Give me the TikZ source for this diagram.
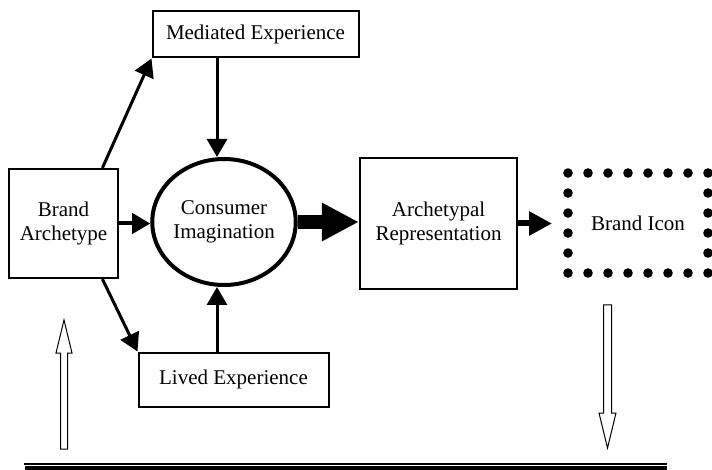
\documentclass[tikz,border=0pt]{standalone}
\usepackage{fontspec}
\setmainfont{Liberation Serif}
\usepackage{tikz}
\usetikzlibrary{calc}
\usetikzlibrary{shapes.geometric}
\usetikzlibrary{arrows.meta, positioning}

\begin{document}
\begin{tikzpicture}[x=0.5pt, y=-0.5pt,
		every node/.style={font=\fontsize{10.5}{12}\selectfont, align=center, inner sep=0pt},
		box/.style={draw, line width=1pt},
		conn/.style={line width=1.5pt, -{Triangle[width=10pt,length=9pt]}},
		hollow/.style={draw, line width=0.5pt, fill=white}]

		\useasboundingbox (0,0) rectangle (712,470);

		\node[box, minimum width=54.5pt, minimum height=54.5pt](arch) at (63.5,223.5) {Brand\\Archetype};
		\node[box, minimum width=103pt, minimum height=23pt](med) at (255.5,34.5) {Mediated Experience};
		\node[box, minimum width=95pt, minimum height=27pt](lived) at (233.5,379.5) {Lived Experience};
		\node[draw, ellipse, line width=2pt, minimum width=71pt, minimum height=63pt](ell) at (224,222) {Consumer\\Imagination};
		\node[box, line width=1.2pt, minimum width=78.5pt, minimum height=65.5pt](arep) at (438.5,223.5) {Archetypal\\Representation};
		\node[draw, line width=4.8pt, line cap=round, dash pattern=on 0pt off 10pt,
			minimum width=70pt, minimum height=50pt](icon) at (638,223) {Brand Icon};
		\coordinate (tip) at (552,223.5);

		\draw[conn] (arch.55) -- (med.south west);
		\draw[conn] (arch.-55) -- (lived.north west);
		\draw[conn, line width=2pt] (arch.east) -- (arch.east -| ell.west);
		\draw[conn] ([xshift=-3.5pt]ell.north |- med.south) -- ([xshift=-3.5pt]ell.north);
		\draw[conn] ([xshift=-3.5pt]ell.south |- lived.north) -- ([xshift=-3.5pt]ell.south);

		\draw[line width=7pt, -{Triangle[width=18pt,length=18.5pt]}] (ell.east) -- (ell.east -| arep.west);
		\draw[line width=3pt, -{Triangle[width=11.5pt,length=11.5pt]}] (arep.east) -- (arep.east -| tip);

		\draw[hollow] (60.5,449) -- (60.5,353) -- (56,353) -- (64,320) -- (72,353) -- (67.5,353) -- (67.5,449) -- cycle;
		\draw[hollow] (603.5,305) -- (603.5,413) -- (599,413) -- (607.5,448) -- (616,413) -- (611.5,413) -- (611.5,305) -- cycle;

		\draw[line width=0.75pt] (24,464) -- (667,464);
		\draw[line width=2pt] (25,468) -- (667,468);

\end{tikzpicture}
\end{document}
